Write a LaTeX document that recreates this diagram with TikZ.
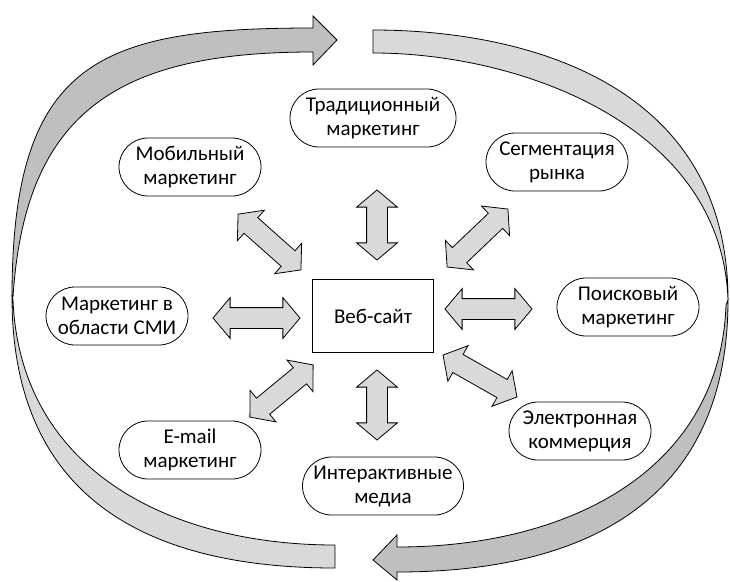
\documentclass[tikz,border=0pt]{standalone}
\usepackage{fontspec}
\setmainfont{Carlito}
\usetikzlibrary{shapes.arrows, shapes.misc}

\definecolor{ribbonlight}{HTML}{D9D9D9}
\definecolor{ribbondark}{HTML}{BFBFBF}

\begin{document}
\begin{tikzpicture}[x=1pt, y=-1pt, line width=0.8pt,
		topic/.style={draw, rounded rectangle, minimum width=146pt, minimum height=58pt, inner sep=2pt, align=center, font=\fontsize{21}{24}\selectfont},
		link/.style={double arrow, draw, fill=ribbonlight, double arrow head extend=10pt, double arrow tip angle=100, inner xsep=0pt, inner ysep=10pt}]
		\useasboundingbox (0,0) rectangle (730,581);
		
		% Ring of two twisted arrows
		\filldraw[fill=ribbonlight] (12,297) .. controls (12,500) and (150,568) .. (335,568) -- (335,545) .. controls (170,545) and (20,470) .. (13,300) -- cycle;
		\filldraw[fill=ribbondark] (12,297) .. controls (12,60) and (100,28) .. (313,28) -- (313,16) -- (337,40) -- (313,65) -- (313,52) .. controls (120,52) and (25,110) .. (13,297) -- cycle;
		\filldraw[fill=ribbonlight] (373,30) .. controls (520,30) and (728,80) .. (728,300) .. controls (722,125) and (520,53) .. (373,53) -- cycle;
		\filldraw[fill=ribbondark] (728,300) .. controls (728,505) and (580,572) .. (397,572) -- (397,580) -- (373,560) -- (397,535) -- (397,547) .. controls (570,547) and (720,470) .. (726,305) -- cycle;
		
		% Nodes
		\node[draw, minimum width=121pt, minimum height=73pt, font=\fontsize{21}{24}\selectfont] (web) at (373,316) {Веб-сайт};
		\node[topic, minimum width=170pt] (trad) at (373,118) {Традиционный\\маркетинг};
		\node[topic] (mob) at (190,167) {Мобильный\\маркетинг};
		\node[topic] (seg) at (557,162) {Сегментация\\рынка};
		\node[topic] (smi) at (117,316) {Маркетинг в\\области СМИ};
		\node[topic] (search) at (628,307) {Поисковый\\маркетинг};
		\node[topic] (email) at (190,450) {E-mail\\маркетинг};
		\node[topic, minimum width=165pt] (inter) at (383,486) {Интерактивные\\медиа};
		\node[topic] (ecom) at (580,431) {Электронная\\коммерция};
		
		% Links
		\node[link, minimum height=70pt, rotate=90] (l-trad) at (377,225) {};
		\node[link, minimum height=84pt, rotate=-41.6] (l-mob) at (269.5,242) {};
		\node[link, minimum height=84pt, rotate=43.6] (l-seg) at (477.5,238) {};
		\node[link, minimum height=87pt] (l-smi) at (256.5,318) {};
		\node[link, minimum height=87pt] (l-search) at (488.5,309) {};
		\node[link, minimum height=82pt, rotate=39.5] (l-email) at (281.5,391) {};
		\node[link, minimum height=70pt, rotate=90] (l-inter) at (377,405) {};
		\node[link, minimum height=85pt, rotate=-29.6] (l-ecom) at (480,376) {};
		
	\end{tikzpicture}
\end{document}
